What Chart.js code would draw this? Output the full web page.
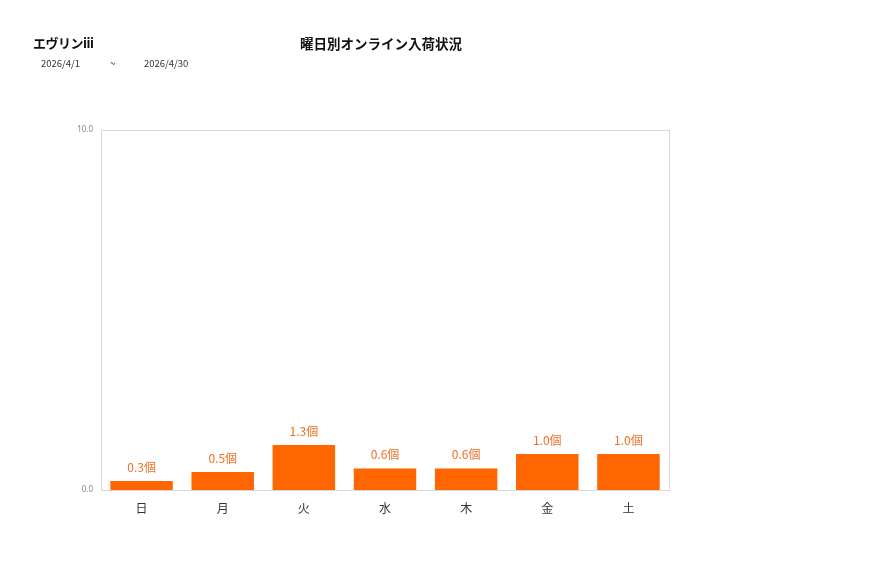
<!DOCTYPE html>
<html><head><meta charset="utf-8">
<script src="https://cdn.jsdelivr.net/npm/chart.js@4/dist/chart.umd.min.js"></script>
<style>
html,body{margin:0;padding:0;background:#fff;}
#wrap{position:relative;width:877px;height:578px;font-family:"Noto Sans CJK JP","Noto Sans",sans-serif;}
#c{position:absolute;left:0;top:0;}
.t{position:absolute;white-space:nowrap;color:#111;}
</style></head><body>
<div id="wrap">
<canvas id="c" width="877" height="578"></canvas>
<div class="t" style="left:33px;top:33px;font-size:13px;font-weight:bold;letter-spacing:-0.5px;">エヴリンiii</div>
<div class="t" style="left:41px;top:56px;font-size:9.5px;color:#333;">2026/4/1</div>
<div class="t" style="left:110px;top:56px;font-size:9.5px;color:#333;">~</div>
<div class="t" style="left:144px;top:56px;font-size:9.5px;color:#333;">2026/4/30</div>
<div class="t" style="left:300px;top:33px;font-size:13.5px;font-weight:bold;">曜日別オンライン入荷状況</div>
</div>
<script>
const categories = ["日","月","火","水","木","金","土"];
const values = [0.25, 0.5, 1.25, 0.6, 0.6, 1.0, 1.0];
const yTicks = [0, 10];
const unit = "個";

const boxPlugin = {
  id:'box',
  afterDraw(chart){
    const a = chart.chartArea, ctx = chart.ctx;
    ctx.save();
    ctx.strokeStyle = '#d9d9d9';
    ctx.lineWidth = 1;
    ctx.strokeRect(Math.round(a.left)+0.5, Math.round(a.top)+0.5, Math.round(a.right-a.left), Math.round(a.bottom-a.top));
    ctx.restore();
  }
};
const labelPlugin = {
  id:'vals',
  afterDatasetsDraw(chart){
    const ctx = chart.ctx;
    const meta = chart.getDatasetMeta(0);
    ctx.save();
    ctx.fillStyle = '#ee7022';
    ctx.font = '12px "Noto Sans CJK JP", sans-serif';
    ctx.textAlign = 'center';
    ctx.textBaseline = 'bottom';
    meta.data.forEach((bar,i)=>{
      ctx.fillText(values[i].toFixed(1)+unit, bar.x, bar.y - 8);
    });
    ctx.restore();
  }
};

new Chart(document.getElementById('c'), {
  type:'bar',
  data:{labels:categories, datasets:[{data:values, backgroundColor:'#ff6600', borderWidth:0, barPercentage:0.77, categoryPercentage:1}]},
  options:{
    responsive:false, animation:false, devicePixelRatio:1,
    layout:{padding:{left:61, right:208, top:130, bottom:0}},
    plugins:{legend:{display:false}, tooltip:{enabled:false}},
    scales:{
      x:{
        grid:{display:false, drawTicks:false},
        border:{display:false},
        ticks:{color:'#333', font:{size:12, family:'"Noto Sans CJK JP", sans-serif'}, padding:11},
        afterFit(s){ s.height = 88; }
      },
      y:{
        min:0, max:10,
        grid:{display:false, drawTicks:false},
        border:{display:false},
        afterBuildTicks(s){ s.ticks = yTicks.map(v=>({value:v})); },
        ticks:{color:'#888', font:{size:8, family:'"Noto Sans", sans-serif'}, padding:8, callback:v=>Number(v).toFixed(1)},
        afterFit(s){ s.width = 40; }
      }
    }
  },
  plugins:[boxPlugin, labelPlugin]
});
</script>
</body></html>
